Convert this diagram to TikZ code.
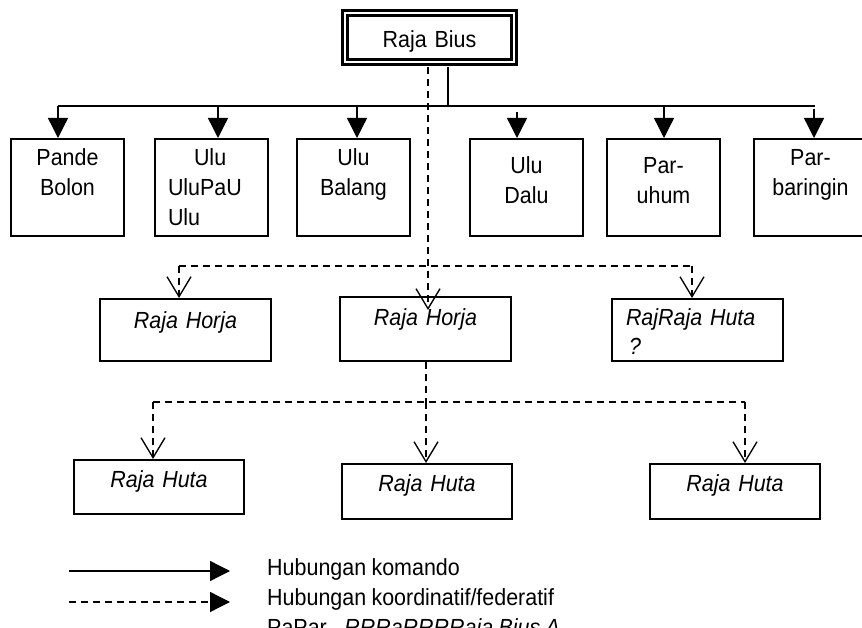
\documentclass[tikz,border=0pt]{standalone}
\usepackage{fontspec}
\setmainfont{Liberation Sans}[FakeStretch=0.92,WordSpace=0.9]
\usepackage{tikz}
\usetikzlibrary{arrows.meta}
\newcommand{\diagsize}{\fontsize{19.9}{25.6}\selectfont}

\begin{document}
\begin{tikzpicture}[x=0.03cm,y=-0.03cm,font=\diagsize,
    box/.style={draw,line width=0.06cm,inner sep=0pt,anchor=north west,align=center},
    topbox/.style={box,text width=3.39cm},
    horjabox/.style={box,text width=5.13cm,font=\diagsize\itshape},
    hutabox/.style={box,text width=5.1cm,font=\diagsize\itshape},
    link/.style={line width=0.04cm},
    dashln/.style={link,dash pattern=on 0.21cm off 0.15cm},
    cmd/.style={link,-{Triangle[length=0.6cm,width=0.6cm]}},
    crd/.style={dashln,-{Straight Barb[length=0.6cm,width=0.72cm]}}]
  \clip (0,0) rectangle (862,628);
  % head
  \node[box,anchor=center,line width=0.08cm,double,double distance=0.07cm,text width=5.07cm,
        text height=1.05cm,text depth=0.42cm] (rb) at (429.5,37.5) {Raja Bius};
  % command row
  \node[topbox,text height=0.81cm,text depth=2.1cm] (pb) at (10,138) {Pande\\Bolon};
  \node[topbox,align=left,inner xsep=0.39cm,text width=2.61cm,text height=0.81cm,text depth=2.1cm]
       (uu) at (154,138) {\hspace*{0.78cm}Ulu\\UluPaU\\Ulu};
  \node[topbox,text height=0.81cm,text depth=2.1cm] (ub) at (296,138) {Ulu\\Balang};
  \node[topbox,text height=1.05cm,text depth=1.86cm] (ud) at (469,138) {Ulu\\Dalu};
  \node[topbox,text height=1.05cm,text depth=1.86cm] (pu) at (606,138) {Par-\\uhum};
  \node[topbox,text height=0.81cm,text depth=2.1cm] (pbr) at (753,138) {Par-\\baringin};
  % horja row
  \node[horjabox,text height=0.87cm,text depth=0.99cm] (rh1) at (99,298) {Raja Horja};
  \node[horjabox,text height=0.84cm,text depth=1.08cm] (rh2) at (339,296) {Raja Horja};
  \node[horjabox,align=left,inner xsep=0.42cm,text width=4.29cm,text height=0.78cm,text depth=1.08cm]
       (rh3) at (611,298) {RajRaja Huta\\\hspace*{0.09cm}?};
  % huta row
  \node[hutabox,text height=0.81cm,text depth=0.81cm] (rt1) at (73,459) {Raja Huta};
  \node[hutabox,text height=0.81cm,text depth=0.84cm] (rt2) at (341,463) {Raja Huta};
  \node[hutabox,text height=0.81cm,text depth=0.84cm] (rt3) at (649,463) {Raja Huta};

  % komando lines
  \coordinate (cmdjoin) at (448,106);
  \coordinate (cmdL) at (58,106);
  \coordinate (cmdR) at (815,106);
  \coordinate (cmd2) at (218,106);
  \coordinate (cmd3) at (357,106);
  \coordinate (cmd4) at (517,112);
  \coordinate (cmd5) at (664,106);
  \coordinate (cmd6) at (814,109);
  \draw[link,shorten <=0.12cm] (rb.south -| cmdjoin) -- (cmdjoin);
  \draw[link] (cmdL) -- (cmdR);
  \draw[cmd] (cmdL) -- (cmdL |- pb.north);
  \draw[cmd] (cmd2) -- (cmd2 |- uu.north);
  \draw[cmd] (cmd3) -- (cmd3 |- ub.north);
  \draw[cmd] (cmd4) -- (cmd4 |- ud.north);
  \draw[cmd] (cmd5) -- (cmd5 |- pu.north);
  \draw[cmd] (cmd6) -- (cmd6 |- pbr.north);

  % koordinatif lines
  \coordinate (crdtip) at (428,310);
  \coordinate (crdL) at (179,266);
  \coordinate (crdR) at (692,266);
  \draw[crd,shorten <=0.12cm] (rb.south -| crdtip) -- (crdtip);
  \draw[dashln] (crdL) -- (crdR);
  \draw[crd] (crdL) -- (crdL |- rh1.north);
  \draw[crd] (crdR) -- (crdR |- rh3.north);
  \coordinate (hutL) at (153,402);
  \coordinate (hutM) at (426,402);
  \coordinate (hutR) at (745,402);
  \draw[dashln] (rh2.south -| hutM) -- (hutM);
  \draw[dashln] (hutL) -- (hutR);
  \draw[crd] (hutL) -- (hutL |- rt1.north);
  \draw[crd] (hutM) -- (hutM |- rt2.north);
  \draw[crd] (hutR) -- (hutR |- rt3.north);

  % legend
  \coordinate (lgA) at (69,571);
  \coordinate (lgB) at (230,571);
  \coordinate (lgC) at (69,602);
  \coordinate (lgD) at (230,602);
  \draw[cmd] (lgA) -- (lgB);
  \draw[cmd,dashln] (lgC) -- (lgD);
  \node[anchor=base west,inner sep=0pt] (lgcmd) at (267,575) {Hubungan komando};
  \node[anchor=base west,inner sep=0pt] (lgcrd) at (267,605) {Hubungan koordinatif/federatif};
  \node[anchor=base west,inner sep=0pt] (lgsrc) at (267,635) {PaPar.~ \textit{RRRaRRRRaja Bius A}};
\end{tikzpicture}
\end{document}
